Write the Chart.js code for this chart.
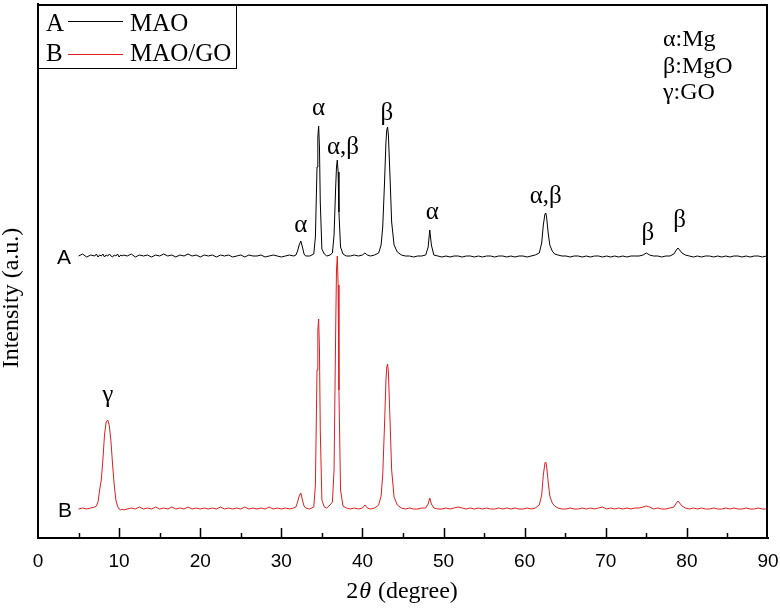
<!DOCTYPE html>
<html>
<head>
<meta charset="utf-8">
<script src="https://cdn.jsdelivr.net/npm/chart.js"></script>
<style>
  body { margin: 0; background: #fff; }
  #wrap { width: 780px; height: 611px; }
</style>
</head>
<body>
<div id="wrap"><canvas id="xrdChart"></canvas></div>
<script>
// 2theta sampling (degree), shared by both patterns
const angles = [
  5, 5.5, 6, 6.5, 7,
  7.2, 7.4, 7.6, 7.8, 8.0, 8.2, 8.4, 8.6, 8.8, 9.0, 9.2, 9.4, 9.6, 9.8, 10.0, 10.2, 10.4,
  10.5, 11, 11.5, 12, 12.5, 13, 13.5, 14, 14.5, 15, 15.5,
  16, 16.5, 17, 17.5, 18, 18.5, 19, 19.5, 20, 20.5, 21,
  21.5, 22, 22.5, 23, 23.5, 24, 24.5, 25, 25.5, 26, 26.5,
  27, 27.5, 28, 28.5, 29, 29.5, 30, 30.5, 31, 31.5,
  31.8, 32.0, 32.2, 32.4, 32.6, 32.8, 33.0, 33.5, 34.0,
  34.2, 34.4, 34.5, 34.6, 34.7, 34.8, 35.0, 35.3, 35.6, 36.0,
  36.3, 36.5, 36.7, 36.8, 36.9, 37.0, 37.1, 37.3, 37.6, 38.0,
  38.5, 39, 39.5, 40, 40.3, 40.6, 41, 41.5, 42,
  42.3, 42.5, 42.7, 42.9, 43.0, 43.1, 43.2, 43.4, 43.6, 43.9, 44.3, 44.8,
  45.3, 45.8, 46.3, 46.8, 47.3, 47.8, 48.1, 48.3, 48.5, 48.8, 49.3, 49.8,
  50.3, 50.8, 51.3, 51.8, 52.3, 52.8, 53.3, 53.8, 54.3, 54.8, 55.3, 55.8,
  56.3, 56.8, 57.3, 57.8, 58.3, 58.8, 59.3, 59.8, 60.3, 60.8, 61.3, 61.8,
  62.1, 62.3, 62.5, 62.6, 62.7, 62.9, 63.1, 63.4, 63.7, 64.1, 64.6,
  65.1, 65.6, 66.1, 66.6, 67.1, 67.6, 68.1, 68.6, 69.1, 69.6, 70.1, 70.6,
  71.1, 71.6, 72.1, 72.6, 73.1, 73.6, 74.1, 74.6, 75.0, 75.4, 75.9, 76.4,
  76.9, 77.4, 77.9, 78.4, 78.7, 78.9, 79.1, 79.4, 79.8, 80.3, 80.8,
  81.3, 81.8, 82.3, 82.8, 83.3, 83.8, 84.3, 84.8, 85.3, 85.8, 86.3, 86.8,
  87.3, 87.8, 88.3, 88.8, 89.3, 89.8, 90
];

// A: MAO intensity above its own baseline (a.u.)
const mao = [
  1, 3, 0, 2, 1,
  3, 0, 2, 1, 3, 0, 2, 1, 3, 1, 0, 2, 1, 3, 0, 2, 1,
  2, 1, 3, 0, 2, 1, 2, 0, 2, 1, 3,
  1, 2, 0, 2, 1, 3, 1, 2, 0, 2, 1,
  2, 0, 2, 1, 2, 0, 1, 2, 0, 2, 1,
  1, 2, 0, 1, 2, 1, 0, 1, 2, 1,
  2, 6, 12, 16, 10, 3, 1, 1, 3,
  20, 90, 120, 131, 110, 55, 8, 3, 1, 2,
  4, 22, 70, 90, 97, 85, 45, 10, 3, 1,
  1, 2, 1, 2, 4, 2, 1, 2, 4,
  12, 30, 70, 115, 127, 130, 122, 80, 35, 12, 5, 2,
  1, 1, 0, 1, 1, 2, 10, 27, 12, 2, 1, 0,
  1, 0, 1, 1, 0, 1, 1, 0, 1, 0, 1, 1,
  0, 1, 1, 0, 1, 0, 1, 1, 0, 1, 2, 4,
  14, 32, 43, 44, 40, 24, 12, 6, 3, 2, 1,
  1, 0, 1, 1, 0, 1, 0, 1, 1, 0, 1, 0,
  1, 0, 1, 0, 1, 1, 1, 2, 4, 2, 1, 1,
  0, 1, 1, 3, 7, 9, 7, 4, 2, 1, 0,
  1, 0, 1, 1, 0, 1, 0, 1, 0, 1, 1, 0,
  1, 0, 1, 1, 0, 1, 0
];

// B: MAO/GO intensity above its own baseline (a.u.)
const maoGo = [
  1, 2, 1, 2, 3,
  4, 8, 20, 30, 50, 75, 88, 90, 84, 68, 45, 25, 10, 4, 1, 0, 1,
  0, 1, 2, 1, 3, 1, 2, 1, 3, 1, 2,
  1, 3, 1, 2, 1, 3, 1, 2, 1, 2, 1,
  2, 1, 3, 1, 2, 1, 2, 1, 3, 1, 2,
  1, 2, 1, 3, 1, 2, 1, 2, 1, 2,
  3, 8, 14, 17, 10, 4, 2, 1, 3,
  25, 140, 180, 191, 160, 80, 10, 3, 2, 5,
  8, 40, 180, 240, 254, 225, 120, 20, 4, 2,
  1, 2, 1, 2, 5, 2, 1, 2, 5,
  14, 35, 80, 130, 143, 146, 138, 90, 40, 13, 5, 2,
  1, 2, 1, 1, 2, 2, 6, 12, 6, 2, 1, 1,
  2, 1, 2, 3, 2, 1, 2, 1, 2, 1, 2, 1,
  1, 2, 1, 2, 1, 2, 1, 1, 2, 1, 2, 5,
  15, 35, 47, 48, 44, 28, 14, 7, 4, 2, 1,
  1, 2, 1, 1, 2, 1, 2, 1, 2, 3, 1, 2,
  1, 2, 1, 2, 1, 2, 2, 3, 4, 3, 1, 2,
  1, 1, 2, 3, 7, 9, 7, 4, 2, 1, 2,
  1, 2, 1, 1, 2, 1, 1, 2, 1, 2, 1, 1,
  2, 1, 1, 2, 1, 1, 2
];

// vertical stacking of the two patterns
const maoOffset = 281;
const maoGoOffset = 28;

// phase marks above pattern A (and gamma above B)
const peakLabels = ['α', 'α', 'α,β', 'β', 'α', 'α,β', 'β', 'β', 'γ'];
const peakLabelAngles = [32.4, 34.6, 37.6, 43.0, 48.6, 62.6, 75.2, 79.1, 8.6];
const peakLabelLevels = [313, 430, 391, 425, 326, 342, 305, 318, 143];

const SERIF = '"Liberation Serif", "Times New Roman", serif';
const SANS = '"Liberation Sans", Arial, sans-serif';

const annotations = {
  id: 'annotations',
  afterDraw(chart) {
    const ctx = chart.ctx;
    const area = chart.chartArea;
    const xs = chart.scales.x;
    const ys = chart.scales.y;
    ctx.save();
    ctx.strokeStyle = '#000';
    ctx.fillStyle = '#000';

    // top and right frame
    ctx.lineWidth = 2;
    ctx.beginPath();
    ctx.moveTo(area.left, area.top + 1);
    ctx.lineTo(area.right - 1, area.top + 1);
    ctx.lineTo(area.right - 1, area.bottom);
    ctx.stroke();

    // inward ticks on the x axis
    ctx.lineWidth = 1.5;
    for (let v = 5; v < 90; v += 5) {
      const px = Math.round(xs.getPixelForValue(v)) + 0.5;
      const len = v % 10 === 0 ? 10 : 5;
      ctx.beginPath();
      ctx.moveTo(px, area.bottom);
      ctx.lineTo(px, area.bottom - len);
      ctx.stroke();
    }

    // legend box
    ctx.lineWidth = 1;
    ctx.strokeRect(area.left + 0.5, area.top + 0.5, 198, 64);
    ctx.font = '25px ' + SERIF;
    ctx.textBaseline = 'alphabetic';
    ctx.textAlign = 'left';
    ctx.fillText('A', 46, 31);
    ctx.fillText('MAO', 130, 31);
    ctx.fillText('B', 46, 61);
    ctx.fillText('MAO/GO', 130, 61);
    ctx.beginPath();
    ctx.strokeStyle = '#000';
    ctx.moveTo(68, 21.5);
    ctx.lineTo(123, 21.5);
    ctx.stroke();
    ctx.beginPath();
    ctx.strokeStyle = 'rgb(222, 30, 30)';
    ctx.moveTo(68, 54.5);
    ctx.lineTo(123, 54.5);
    ctx.stroke();
    ctx.strokeStyle = '#000';

    // phase key
    ctx.font = '24px ' + SERIF;
    ctx.fillText('α:Mg', 663, 46);
    ctx.fillText('β:MgO', 663, 73);
    ctx.fillText('γ:GO', 663, 99);

    // peak marks
    ctx.font = '25px ' + SERIF;
    ctx.textAlign = 'center';
    ctx.textBaseline = 'middle';
    peakLabels.forEach((t, i) => {
      ctx.fillText(t, xs.getPixelForValue(peakLabelAngles[i]), ys.getPixelForValue(peakLabelLevels[i]));
    });

    // pattern names
    ctx.font = '21px ' + SANS;
    ctx.fillText('A', 64, ys.getPixelForValue(maoOffset) + 1);
    ctx.fillText('B', 65, ys.getPixelForValue(maoGoOffset) + 1);

    // axis titles
    ctx.font = '24px ' + SERIF;
    ctx.textBaseline = 'alphabetic';
    ctx.textAlign = 'left';
    const t1 = '2', t2 = 'θ', t3 = ' (degree)';
    const w1 = ctx.measureText(t1).width;
    const w3 = ctx.measureText(t3).width;
    ctx.font = 'italic 24px ' + SERIF;
    const w2 = ctx.measureText(t2).width + 2;
    let sx = 402 - (w1 + w2 + w3) / 2;
    ctx.font = '24px ' + SERIF;
    ctx.fillText(t1, sx, 598);
    ctx.font = 'italic 24px ' + SERIF;
    ctx.fillText(t2, sx + w1 + 1, 598);
    ctx.font = '24px ' + SERIF;
    ctx.fillText(t3, sx + w1 + w2, 598);

    ctx.translate(12, 298);
    ctx.rotate(-Math.PI / 2);
    ctx.textAlign = 'center';
    ctx.textBaseline = 'middle';
    ctx.fillText('Intensity (a.u.)', 0, 0);
    ctx.restore();
  }
};

const ctx = document.getElementById('xrdChart').getContext('2d');
const xrdChart = new Chart(ctx, {
  type: 'line',
  data: {
    datasets: [
      {
        label: 'MAO',
        data: angles.map((a, i) => ({ x: a, y: mao[i] + maoOffset })),
        borderColor: '#000',
        borderWidth: 1,
        pointRadius: 0,
        tension: 0
      },
      {
        label: 'MAO/GO',
        data: angles.map((a, i) => ({ x: a, y: maoGo[i] + maoGoOffset })),
        borderColor: 'rgb(222, 30, 30)',
        borderWidth: 1,
        pointRadius: 0,
        tension: 0
      }
    ]
  },
  options: {
    responsive: true,
    maintainAspectRatio: false,
    animation: false,
    layout: { padding: { left: 38, top: 4, right: 12, bottom: 0 } },
    plugins: {
      legend: { display: false },
      tooltip: { enabled: false }
    },
    scales: {
      x: {
        type: 'linear',
        min: 0,
        max: 90,
        grid: { display: false, drawTicks: false },
        border: { color: '#000', width: 2 },
        ticks: {
          stepSize: 10,
          color: '#000',
          padding: 12,
          font: { family: SANS, size: 19 }
        },
        afterFit(scale) {
          scale.height = 73;
          scale.paddingLeft = 0;
          scale.paddingRight = 0;
        }
      },
      y: {
        min: 0,
        max: 534,
        grid: { display: false, drawTicks: false },
        border: { color: '#000', width: 2 },
        ticks: { display: false },
        afterFit(scale) { scale.width = 0; }
      }
    }
  },
  plugins: [annotations]
});
</script>
</body>
</html>
